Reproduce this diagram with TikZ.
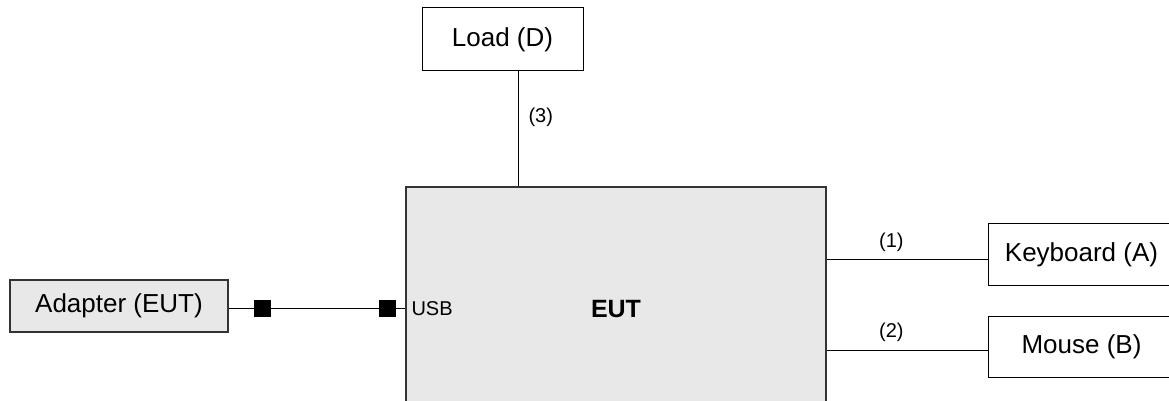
\documentclass[tikz,border=0pt]{standalone}
\usepackage{fontspec}
\setmainfont{Liberation Sans}
\usetikzlibrary{positioning}
\usetikzlibrary{calc}

\begin{document}
\begin{tikzpicture}[
        x=0.5pt, y=-0.5pt,
        bnode/.style={rectangle, draw=black, line width=0.5pt, fill=white, inner sep=0pt, font=\fontsize{13}{15}\selectfont},
        gnode/.style={bnode, draw=black!80, fill=black!9, line width=0.8pt},
        port/.style={rectangle, fill=black, minimum size=8.5pt, inner sep=0pt},
        lbl/.style={font=\fontsize{10}{12}\selectfont, inner sep=1pt},
        line width=0.5pt
    ]
        \useasboundingbox (0,0) rectangle (1169,401);
        \clip (0,0) rectangle (1169,401);

        \node[gnode, line width=1pt, minimum width=210pt, minimum height=122pt, font=\fontsize{12.5}{15}\selectfont\bfseries] (eut) at (616,309) {EUT};
        \node[bnode, minimum width=80.5pt, minimum height=31.5pt] (load) at (502.5,39.5) {Load (D)};
        \node[gnode, minimum width=109pt, minimum height=26pt] (adapter) at (119,306) {Adapter (EUT)};
        \node[bnode, minimum width=93pt, minimum height=31pt] (kbd) at (1081.5,255) {Keyboard (A)};
        \node[bnode, minimum width=93pt, minimum height=30.5pt] (mouse) at (1081.5,346.5) {Mouse (B)};

        % connections
        \draw (load.south) ++(15.5,0) coordinate (lp) -- node[lbl, pos=0.4, right=4pt] {(3)} (lp |- eut.north);
        \draw ($(kbd.west -| eut.east)+(0,5)$) -- node[lbl, pos=0.4, above=3pt] {(1)} ($(kbd.west)+(0,5)$);
        \draw ($(mouse.west -| eut.east)+(0,3.5)$) -- node[lbl, pos=0.4, above=3pt] {(2)} ($(mouse.west)+(0,3.5)$);
        \draw ($(adapter.east)+(0,2.5)$) -- node[port, pos=0.19] (p1) {} node[port, pos=0.9] (p2) {} ($(adapter.east -| eut.west)+(0,2.5)$);
        \node[lbl, anchor=west] (usb) at ($(adapter.east -| eut.west)+(4,2.5)$) {USB};
    \end{tikzpicture}
\end{document}
